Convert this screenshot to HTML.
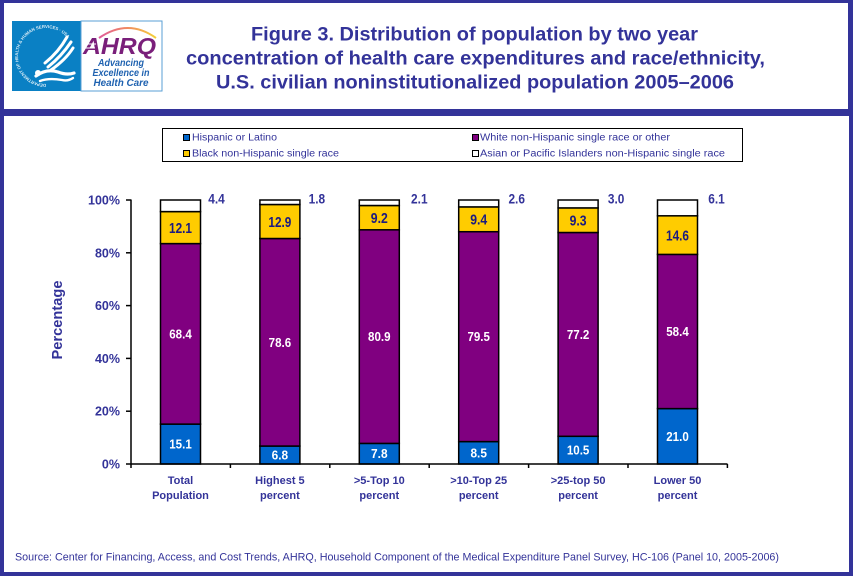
<!DOCTYPE html>
<html>
<head>
<meta charset="utf-8">
<style>
  html,body{margin:0;padding:0;background:#fff;}
  svg{display:block;}
  text{font-family:"Liberation Sans", Arial, sans-serif;}
</style>
</head>
<body>
<svg width="853" height="576" viewBox="0 0 853 576" xmlns="http://www.w3.org/2000/svg">
  <defs>
    <linearGradient id="arcg" x1="0" y1="0" x2="1" y2="0">
      <stop offset="0" stop-color="#e05a9a"/>
      <stop offset="0.5" stop-color="#f08a60"/>
      <stop offset="1" stop-color="#f5d23a"/>
    </linearGradient>
    <path id="ring" d="M 46 84 A 28 28 0 1 1 46.1 84"/>
  </defs>

  <!-- frame -->
  <rect x="0" y="0" width="853" height="576" fill="#333399"/>
  <rect x="4" y="3" width="844" height="106" fill="#ffffff"/>
  <rect x="4" y="116" width="845" height="456" fill="#ffffff"/>

  <!-- HHS logo -->
  <rect x="12" y="21" width="69" height="70" fill="#0a80c4"/>
  <text font-size="4.3" fill="#ffffff" fill-opacity="0.85" font-weight="bold">
    <textPath href="#ring">DEPARTMENT OF HEALTH &amp; HUMAN SERVICES · USA</textPath>
  </text>
  <g fill="none" stroke="#ffffff" stroke-linecap="round">
    <path d="M67 37 C62 46 55 55 45 63" stroke-width="3"/>
    <path d="M71 42 C65 51 58 59 48 67" stroke-width="3"/>
    <path d="M73 48 C68 56 61 63 51 70" stroke-width="3"/>
    <path d="M36 76 C44 70 52 70 58 72 C63 74 68 75 74 73" stroke-width="3.2"/>
    <path d="M40 81 C48 78 56 79 62 80 C66 81 70 80 73 78" stroke-width="2.4"/>
  </g>
  <circle cx="38" cy="73" r="3" fill="#ffffff"/>

  <!-- AHRQ logo -->
  <rect x="81" y="21" width="81" height="70" fill="#ffffff" stroke="#5a9fd4" stroke-width="1"/>
  <path d="M99 38 Q128 18 156 38" fill="none" stroke="url(#arcg)" stroke-width="2"/>
  <text x="83" y="54" font-size="23" font-weight="bold" font-style="italic" fill="#7a1f7a" textLength="73" lengthAdjust="spacingAndGlyphs">AHRQ</text>
  <g stroke="#ffffff" stroke-width="1">
    <line x1="84" y1="44" x2="96" y2="44"/>
    <line x1="83" y1="48" x2="95" y2="48"/>
  </g>
  <g font-size="10.5" font-style="italic" font-weight="bold" fill="#1f62b0" text-anchor="middle">
    <text x="121" y="66" textLength="46" lengthAdjust="spacingAndGlyphs">Advancing</text>
    <text x="121" y="76" textLength="57" lengthAdjust="spacingAndGlyphs">Excellence in</text>
    <text x="121" y="86" textLength="55" lengthAdjust="spacingAndGlyphs">Health Care</text>
  </g>

  <!-- title -->
  <g font-size="19.5" font-weight="bold" fill="#333399" text-anchor="middle">
    <text x="474.5" y="40.5" textLength="447" lengthAdjust="spacingAndGlyphs">Figure 3. Distribution of population by two year</text>
    <text x="475.5" y="64.5" textLength="579" lengthAdjust="spacingAndGlyphs">concentration of health care expenditures and race/ethnicity,</text>
    <text x="475" y="88.5" textLength="518" lengthAdjust="spacingAndGlyphs">U.S. civilian noninstitutionalized population 2005–2006</text>
  </g>

  <!-- legend -->
  <rect x="162.5" y="128.5" width="580" height="33" fill="#ffffff" stroke="#000000" stroke-width="1"/>
  <rect x="183.5" y="134.5" width="6" height="6" fill="#0066cc" stroke="#000" stroke-width="1"/>
  <rect x="183.5" y="150.5" width="6" height="6" fill="#ffcc00" stroke="#000" stroke-width="1"/>
  <rect x="472.5" y="134.5" width="6" height="6" fill="#800080" stroke="#000" stroke-width="1"/>
  <rect x="472.5" y="150.5" width="6" height="6" fill="#ffffff" stroke="#000" stroke-width="1"/>
  <g font-size="10" fill="#333399">
    <text x="192" y="140.5" textLength="85" lengthAdjust="spacingAndGlyphs">Hispanic or Latino</text>
    <text x="192" y="156.5" textLength="147" lengthAdjust="spacingAndGlyphs">Black non-Hispanic single race</text>
    <text x="480" y="140.5" textLength="190" lengthAdjust="spacingAndGlyphs">White non-Hispanic single race or other</text>
    <text x="480" y="156.5" textLength="245" lengthAdjust="spacingAndGlyphs">Asian or Pacific Islanders non-Hispanic single race</text>
  </g>

  <!-- y axis labels -->
  <g font-size="12.5" font-weight="bold" fill="#333399" text-anchor="end">
    <text x="120" y="204.5">100%</text>
    <text x="120" y="257.3">80%</text>
    <text x="120" y="310.1">60%</text>
    <text x="120" y="362.9">40%</text>
    <text x="120" y="415.7">20%</text>
    <text x="120" y="468.5">0%</text>
  </g>
  <text transform="translate(62,320) rotate(-90)" font-size="15" font-weight="bold" fill="#333399" text-anchor="middle" textLength="79" lengthAdjust="spacingAndGlyphs">Percentage</text>

  <!-- bars -->
  <g stroke="#000000" stroke-width="1.5">
    <rect x="160.5" y="424.1" width="40" height="39.9" fill="#0066cc"/>
    <rect x="160.5" y="243.6" width="40" height="180.5" fill="#800080"/>
    <rect x="160.5" y="211.6" width="40" height="32" fill="#ffcc00"/>
    <rect x="160.5" y="200" width="40" height="11.6" fill="#ffffff"/>

    <rect x="259.9" y="446.05" width="40" height="17.95" fill="#0066cc"/>
    <rect x="259.9" y="238.5" width="40" height="207.55" fill="#800080"/>
    <rect x="259.9" y="204.5" width="40" height="34" fill="#ffcc00"/>
    <rect x="259.9" y="200" width="40" height="4.5" fill="#ffffff"/>

    <rect x="359.3" y="443.4" width="40" height="20.6" fill="#0066cc"/>
    <rect x="359.3" y="229.8" width="40" height="213.6" fill="#800080"/>
    <rect x="359.3" y="205.5" width="40" height="24.3" fill="#ffcc00"/>
    <rect x="359.3" y="200" width="40" height="5.5" fill="#ffffff"/>

    <rect x="458.7" y="441.6" width="40" height="22.4" fill="#0066cc"/>
    <rect x="458.7" y="231.7" width="40" height="209.9" fill="#800080"/>
    <rect x="458.7" y="206.9" width="40" height="24.8" fill="#ffcc00"/>
    <rect x="458.7" y="200" width="40" height="6.9" fill="#ffffff"/>

    <rect x="558.1" y="436.3" width="40" height="27.7" fill="#0066cc"/>
    <rect x="558.1" y="232.5" width="40" height="203.8" fill="#800080"/>
    <rect x="558.1" y="207.9" width="40" height="24.6" fill="#ffcc00"/>
    <rect x="558.1" y="200" width="40" height="7.9" fill="#ffffff"/>

    <rect x="657.5" y="408.6" width="40" height="55.4" fill="#0066cc"/>
    <rect x="657.5" y="254.4" width="40" height="154.2" fill="#800080"/>
    <rect x="657.5" y="215.8" width="40" height="38.6" fill="#ffcc00"/>
    <rect x="657.5" y="200" width="40" height="15.8" fill="#ffffff"/>
  </g>

  <!-- axes -->
  <g stroke="#000000" stroke-width="1.5">
    <line x1="131" y1="199.5" x2="131" y2="464"/>
    <line x1="130.5" y1="464" x2="727.5" y2="464"/>
    <line x1="126" y1="200" x2="131" y2="200"/>
    <line x1="126" y1="252.8" x2="131" y2="252.8"/>
    <line x1="126" y1="305.6" x2="131" y2="305.6"/>
    <line x1="126" y1="358.4" x2="131" y2="358.4"/>
    <line x1="126" y1="411.2" x2="131" y2="411.2"/>
    <line x1="126" y1="464" x2="131" y2="464"/>
    <line x1="131" y1="464" x2="131" y2="468"/>
    <line x1="230.4" y1="464" x2="230.4" y2="468"/>
    <line x1="329.8" y1="464" x2="329.8" y2="468"/>
    <line x1="429.2" y1="464" x2="429.2" y2="468"/>
    <line x1="528.6" y1="464" x2="528.6" y2="468"/>
    <line x1="628" y1="464" x2="628" y2="468"/>
    <line x1="727.4" y1="464" x2="727.4" y2="468"/>
  </g>

  <!-- in-bar labels: white -->
  <g font-size="13" font-weight="bold" fill="#ffffff" text-anchor="middle">
    <text x="180.5" y="448.5" textLength="22.5" lengthAdjust="spacingAndGlyphs">15.1</text>
    <text x="180.5" y="338.3" textLength="22.5" lengthAdjust="spacingAndGlyphs">68.4</text>
    <text x="279.9" y="459.5" textLength="16.5" lengthAdjust="spacingAndGlyphs">6.8</text>
    <text x="279.9" y="346.8" textLength="22.5" lengthAdjust="spacingAndGlyphs">78.6</text>
    <text x="379.3" y="458.2" textLength="16.5" lengthAdjust="spacingAndGlyphs">7.8</text>
    <text x="379.3" y="341.1" textLength="22.5" lengthAdjust="spacingAndGlyphs">80.9</text>
    <text x="478.7" y="457.3" textLength="16.5" lengthAdjust="spacingAndGlyphs">8.5</text>
    <text x="478.7" y="341.1" textLength="22.5" lengthAdjust="spacingAndGlyphs">79.5</text>
    <text x="578.1" y="454.6" textLength="22.5" lengthAdjust="spacingAndGlyphs">10.5</text>
    <text x="578.1" y="338.9" textLength="22.5" lengthAdjust="spacingAndGlyphs">77.2</text>
    <text x="677.5" y="440.8" textLength="22.5" lengthAdjust="spacingAndGlyphs">21.0</text>
    <text x="677.5" y="336" textLength="22.5" lengthAdjust="spacingAndGlyphs">58.4</text>
  </g>
  <!-- in-bar labels: yellow segments -->
  <g font-size="14.5" font-weight="bold" fill="#1b1b80" text-anchor="middle">
    <text x="180.5" y="233" textLength="23" lengthAdjust="spacingAndGlyphs">12.1</text>
    <text x="279.9" y="226.9" textLength="23" lengthAdjust="spacingAndGlyphs">12.9</text>
    <text x="379.3" y="223" textLength="17" lengthAdjust="spacingAndGlyphs">9.2</text>
    <text x="478.7" y="224.7" textLength="17" lengthAdjust="spacingAndGlyphs">9.4</text>
    <text x="578.1" y="225.6" textLength="17" lengthAdjust="spacingAndGlyphs">9.3</text>
    <text x="677.5" y="240.5" textLength="23" lengthAdjust="spacingAndGlyphs">14.6</text>
  </g>
  <!-- outside labels (Asian) -->
  <g font-size="14" font-weight="bold" fill="#333399" text-anchor="middle">
    <text x="216.5" y="203.5" textLength="16.5" lengthAdjust="spacingAndGlyphs">4.4</text>
    <text x="316.9" y="203.5" textLength="16.5" lengthAdjust="spacingAndGlyphs">1.8</text>
    <text x="419.3" y="203.5" textLength="16.5" lengthAdjust="spacingAndGlyphs">2.1</text>
    <text x="516.7" y="203.5" textLength="16.5" lengthAdjust="spacingAndGlyphs">2.6</text>
    <text x="616.1" y="203.5" textLength="16.5" lengthAdjust="spacingAndGlyphs">3.0</text>
    <text x="716.5" y="203.5" textLength="16.5" lengthAdjust="spacingAndGlyphs">6.1</text>
  </g>

  <!-- category labels -->
  <g font-size="11" font-weight="bold" fill="#333399" text-anchor="middle">
    <text x="180.5" y="484">Total</text>
    <text x="180.5" y="499">Population</text>
    <text x="279.9" y="484">Highest 5</text>
    <text x="279.9" y="499">percent</text>
    <text x="379.3" y="484">&gt;5-Top 10</text>
    <text x="379.3" y="499">percent</text>
    <text x="478.7" y="484">&gt;10-Top 25</text>
    <text x="478.7" y="499">percent</text>
    <text x="578.1" y="484">&gt;25-top 50</text>
    <text x="578.1" y="499">percent</text>
    <text x="677.5" y="484">Lower 50</text>
    <text x="677.5" y="499">percent</text>
  </g>

  <!-- source -->
  <text x="15" y="560.5" font-size="11" fill="#333399" textLength="764" lengthAdjust="spacingAndGlyphs">Source: Center for Financing, Access, and Cost Trends, AHRQ, Household Component of the Medical Expenditure Panel Survey, HC-106 (Panel 10, 2005-2006)</text>
</svg>
</body>
</html>
